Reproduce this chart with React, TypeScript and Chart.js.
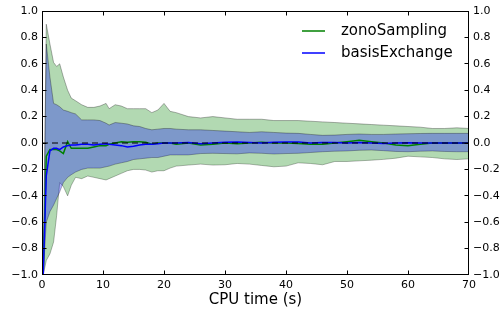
import React, { useEffect, useRef } from "react";
import { Chart, registerables } from "chart.js";

Chart.register(...registerables);

// ---- data ----
const timeSec = [
  0.2, 0.7, 1.3, 1.9, 2.4, 2.9, 3.5, 4.2, 4.8, 5.5,
  6.5, 7.5, 8.5, 9.5, 10.5,
  11, 12, 13, 14, 15, 16, 17, 18, 19, 20, 21, 22,
  24, 26, 28, 30, 32, 34, 36, 38, 40, 42, 44, 46, 48, 50, 52, 54, 56, 58, 60, 62, 64, 66, 68, 70,
];

const zonoUpper = [
  -1, 0.9, 0.75, 0.61, 0.58, 0.6, 0.5, 0.4, 0.34, 0.32,
  0.29, 0.27, 0.27, 0.28, 0.3,
  0.26, 0.29, 0.28, 0.26, 0.26, 0.26, 0.26, 0.23, 0.25, 0.3, 0.24, 0.23,
  0.2, 0.19, 0.2, 0.19, 0.18, 0.18, 0.18, 0.17, 0.17, 0.17, 0.165, 0.16, 0.155, 0.15, 0.145, 0.14, 0.135, 0.13, 0.125, 0.12, 0.11, 0.11, 0.115, 0.11,
];

const zonoLower = [
  -1, -0.89, -0.84, -0.75, -0.55, -0.3, -0.33, -0.4, -0.32, -0.26,
  -0.27, -0.25, -0.26, -0.27, -0.28,
  -0.27, -0.25, -0.23, -0.21, -0.2, -0.2, -0.205, -0.22, -0.21, -0.21, -0.19, -0.175,
  -0.167, -0.16, -0.167, -0.165, -0.155, -0.16, -0.17, -0.18, -0.175, -0.15, -0.155, -0.165, -0.14, -0.14, -0.135, -0.13, -0.124, -0.115, -0.1, -0.105, -0.11, -0.12, -0.125, -0.12,
];

const basisUpper = [
  -1, 0.75, 0.5, 0.3, 0.29, 0.275, 0.25, 0.24, 0.23, 0.22,
  0.175, 0.175, 0.175, 0.17, 0.15,
  0.136, 0.155, 0.15, 0.144, 0.13, 0.125, 0.11, 0.1, 0.105, 0.11, 0.11, 0.105,
  0.1, 0.1, 0.095, 0.09, 0.085, 0.08, 0.085, 0.08, 0.075, 0.073, 0.065, 0.058, 0.06, 0.065, 0.068, 0.065, 0.065, 0.068, 0.07, 0.072, 0.073, 0.073, 0.073, 0.073,
];

const basisLower = [
  -1, -0.6, -0.52, -0.47, -0.42, -0.37, -0.3, -0.26, -0.24, -0.22,
  -0.2, -0.19, -0.19, -0.19, -0.18,
  -0.175, -0.16, -0.15, -0.14, -0.125, -0.12, -0.115, -0.11, -0.11, -0.1, -0.09, -0.09,
  -0.09, -0.08, -0.078, -0.08, -0.082, -0.075, -0.078, -0.083, -0.08, -0.078, -0.072, -0.066, -0.062, -0.06, -0.055, -0.053, -0.058, -0.064, -0.066, -0.062, -0.06, -0.064, -0.066, -0.066,
];

const zonoMean = [
  -1, -0.1, -0.05, -0.05, -0.05, -0.06, -0.08, 0.01, -0.04, -0.04,
  -0.04, -0.04, -0.03, -0.02, -0.02,
  -0.01, 0.0, 0.01, 0.005, 0.01, 0.01, 0.005, -0.01, 0.0, 0.0, 0.0, -0.01,
  0.0, -0.015, -0.01, 0.0, -0.005, 0.0, 0.005, 0.0, 0.0, -0.003, -0.01, -0.01, 0.0, 0.01, 0.02, 0.01, 0.0, -0.015, -0.02, -0.01, 0.0, 0.0, 0.0, 0.0,
];

const basisMean = [
  -1, -0.25, -0.06, -0.04, -0.04, -0.05, -0.03, -0.02, -0.015, -0.015,
  -0.01, -0.01, -0.015, -0.01, -0.005,
  -0.01, -0.015, -0.02, -0.03, -0.025, -0.015, -0.01, -0.01, -0.005, 0.0, 0.0, 0.0,
  0.003, -0.005, 0.0, 0.005, 0.008, 0.003, 0.0, 0.005, 0.008, 0.008, 0.0, 0.003, 0.003, 0.0, 0.003, 0.0, -0.003, 0.0, 0.002, 0.0, 0.0, 0.0, 0.0, 0.0,
];

const referenceX = [0, 70];
const referenceY = [0, 0];

const xTickValues = [0, 10, 20, 30, 40, 50, 60, 70];
const yTickValues = [-1, -0.8, -0.6, -0.4, -0.2, 0, 0.2, 0.4, 0.6, 0.8, 1];

const seriesNames = ["zonoSampling", "basisExchange"];
const xTitle = "CPU time (s)";

// ---- styling ----
const FONT = '"DejaVu Sans", "Bitstream Vera Sans", sans-serif';
const GREEN = "#008000";
const BLUE = "#0000ff";

const fmt = (v: number) => {
  if (Math.abs(v) < 1e-9) return "0.0";
  return v.toFixed(1).replace("-", "\u2212");
};

const pts = (ys: number[]) => ys.map((y, i) => ({ x: timeSec[i], y }));

const mplPlugin = {
  id: "mplFrame",
  afterDraw(chart: any) {
    const { ctx, chartArea: a, scales } = chart;
    ctx.save();
    ctx.strokeStyle = "#000";
    ctx.lineWidth = 1;
    const L = a.left + 0.5;
    const R = a.right - 0.5;
    const T = a.top + 0.5;
    const B = a.bottom - 0.5;
    const TL = 4;
    ctx.beginPath();
    for (const t of scales.x.ticks) {
      const p = Math.round(scales.x.getPixelForValue(t.value)) + 0.5;
      if (p <= L + 1 || p >= R - 1) continue;
      ctx.moveTo(p, B);
      ctx.lineTo(p, B - TL);
      ctx.moveTo(p, T);
      ctx.lineTo(p, T + TL);
    }
    for (const t of scales.y.ticks) {
      const p = Math.floor(scales.y.getPixelForValue(t.value)) + 0.5;
      if (p <= T + 1 || p >= B - 1) continue;
      ctx.moveTo(L, p);
      ctx.lineTo(L + TL, p);
      ctx.moveTo(R, p);
      ctx.lineTo(R - TL, p);
    }
    ctx.stroke();
    ctx.strokeRect(L, T, R - L, B - T);

    // legend
    const colors = [GREEN, BLUE];
    const ys = [31, 53];
    ctx.font = `15px ${FONT}`;
    ctx.textBaseline = "middle";
    ctx.textAlign = "left";
    ctx.fillStyle = "#000";
    seriesNames.forEach((name, i) => {
      ctx.beginPath();
      ctx.strokeStyle = colors[i];
      ctx.lineWidth = 1.5;
      ctx.moveTo(302, ys[i]);
      ctx.lineTo(325, ys[i]);
      ctx.stroke();
      ctx.fillText(name, 341, ys[i]);
    });
    ctx.restore();
  },
};

export default function App() {
  const ref = useRef<HTMLCanvasElement | null>(null);

  useEffect(() => {
    document.body.style.margin = "0";
    const canvas = ref.current;
    if (!canvas) return;
    const band = { pointRadius: 0, borderWidth: 1, borderColor: "rgba(0,0,0,0.3)", tension: 0 };
    const yScale = (pos: "left" | "right", width: number) => ({
      type: "linear" as const,
      position: pos,
      min: -1,
      max: 1,
      afterBuildTicks: (s: any) => {
        s.ticks = yTickValues.map((v) => ({ value: v }));
      },
      afterFit: (s: any) => {
        s.width = width;
      },
      grid: { display: false, drawTicks: false },
      border: { display: false },
      ticks: {
        color: "#000",
        font: { family: FONT, size: 11 },
        padding: 4,
        callback: (v: any) => fmt(Number(v)),
      },
    });

    const chart = new Chart(canvas, {
      type: "line",
      data: {
        datasets: [
          { ...band, label: "zonoUpper", data: pts(zonoUpper), fill: "+1", backgroundColor: "rgba(0,128,0,0.3)", order: 6 },
          { ...band, label: "zonoLower", data: pts(zonoLower), fill: false, order: 7 },
          { ...band, label: "basisUpper", data: pts(basisUpper), fill: "+1", backgroundColor: "rgba(0,0,255,0.3)", order: 4 },
          { ...band, label: "basisLower", data: pts(basisLower), fill: false, order: 5 },
          { label: seriesNames[0], data: pts(zonoMean), borderColor: GREEN, borderWidth: 1.5, pointRadius: 0, fill: false, order: 3 },
          { label: seriesNames[1], data: pts(basisMean), borderColor: BLUE, borderWidth: 1.5, pointRadius: 0, fill: false, order: 2 },
          {
            label: "zero",
            data: referenceX.map((x, i) => ({ x, y: referenceY[i] })),
            borderColor: "#000",
            borderWidth: 1,
            borderDash: [6, 4],
            pointRadius: 0,
            fill: false,
            order: 1,
          },
        ],
      },
      options: {
        animation: false,
        responsive: false,
        maintainAspectRatio: false,
        devicePixelRatio: 1,
        layout: { padding: { top: 11, left: 0, right: 0, bottom: 0 } },
        plugins: { legend: { display: false }, tooltip: { enabled: false } },
        scales: {
          x: {
            type: "linear",
            min: 0,
            max: 70,
            afterBuildTicks: (s: any) => {
              s.ticks = xTickValues.map((v) => ({ value: v }));
            },
            afterFit: (s: any) => {
              s.height = 39;
            },
            grid: { display: false, drawTicks: false },
            border: { display: false },
            ticks: { color: "#000", font: { family: FONT, size: 11 }, padding: 4, maxRotation: 0, autoSkip: false },
            title: { display: true, text: xTitle, color: "#000", font: { family: FONT, size: 15 }, padding: { top: 0, bottom: 5 } },
          },
          y: yScale("left", 42),
          y2: yScale("right", 35),
        },
      },
      plugins: [mplPlugin],
    });
    return () => chart.destroy();
  }, []);

  return (
    <div style={{ position: "fixed", left: 0, top: 0, width: 504, height: 314, background: "#fff" }}>
      <canvas ref={ref} width={504} height={314} style={{ display: "block" }} />
    </div>
  );
}
